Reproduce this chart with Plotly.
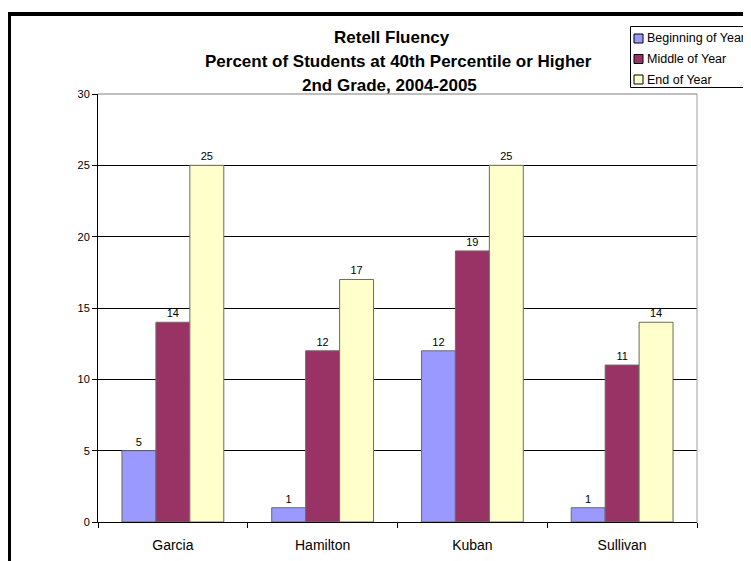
import plotly.graph_objects as go

teachers = ["Garcia", "Hamilton", "Kuban", "Sullivan"]
beginning = [5, 1, 12, 1]
middle = [14, 12, 19, 11]
end_year = [25, 17, 25, 14]
series_names = ["Beginning of Year", "Middle of Year", "End of Year"]
colors = ["#9999FF", "#993366", "#FFFFCC"]
y_ticks = [0, 5, 10, 15, 20, 25, 30]
title_lines = ["Retell Fluency", "Percent of Students at 40th Percentile or Higher", "2nd Grade, 2004-2005"]

FONT = "Liberation Sans, Arial, sans-serif"
OFF = 8  # page body margin

W, H = 751 - OFF, 561 - OFF
L, T = 98 - OFF, 94 - OFF
R = W - (697 - OFF)
B = H - (522 - OFF)
pw, ph = W - L - R, H - T - B

def px_x(p):
    return (p - OFF - L) / pw

def px_y(p):
    return (H - B - (p - OFF)) / ph

fig = go.Figure()
for name, vals, col in zip(series_names, [beginning, middle, end_year], colors):
    fig.add_trace(go.Bar(
        x=teachers, y=vals, name=name,
        marker=dict(color=col, line=dict(color="#6b6b5f", width=1)),
        text=[str(v) for v in vals], textposition="outside",
        textfont=dict(size=11, color="black", family=FONT),
        cliponaxis=False,
    ))

shapes = [
    dict(type="line", xref="paper", yref="paper", x0=1, x1=1, y0=0, y1=1,
         line=dict(color="#a0a0a0", width=1)),
    dict(type="line", xref="paper", yref="paper", x0=0, x1=1, y0=1, y1=1,
         line=dict(color="#808080", width=1)),
    dict(type="line", xref="paper", yref="paper", x0=px_x(9), x1=px_x(9),
         y0=px_y(12), y1=px_y(600), line=dict(color="black", width=4)),
    dict(type="line", xref="paper", yref="paper", x0=px_x(7), x1=px_x(800),
         y0=px_y(14), y1=px_y(14), line=dict(color="black", width=4)),
    # legend box
    dict(type="rect", xref="paper", yref="paper", x0=px_x(630.5), x1=px_x(800),
         y0=px_y(87.5), y1=px_y(26.5), line=dict(color="black", width=1), fillcolor="white"),
]

annotations = []
title_x = [392, 398, 389]
for i, line in enumerate(title_lines):
    annotations.append(dict(
        text="<b>" + line + "</b>", xref="paper", yref="paper",
        x=px_x(title_x[i]), y=px_y(37 + 24 * i), xanchor="center", yanchor="middle",
        showarrow=False, font=dict(size=17, family=FONT, color="black"),
    ))

for i, (name, col) in enumerate(zip(series_names, colors)):
    cy = 38.5 + 20.5 * i
    shapes.append(dict(type="rect", xref="paper", yref="paper",
                       x0=px_x(634), x1=px_x(643), y0=px_y(cy + 4.5), y1=px_y(cy - 4.5),
                       line=dict(color="black", width=1), fillcolor=col))
    annotations.append(dict(
        text=name, xref="paper", yref="paper", x=px_x(645), y=px_y(cy),
        xanchor="left", yanchor="middle", showarrow=False,
        font=dict(size=12.5, family=FONT, color="black"),
    ))

fig.update_layout(
    width=W, height=H,
    margin=dict(l=L, r=R, t=T, b=B, autoexpand=False),
    paper_bgcolor="white", plot_bgcolor="white",
    barmode="group", bargap=0.32, bargroupgap=0,
    font=dict(family=FONT, color="black"),
    showlegend=False,
    xaxis=dict(
        type="category", showgrid=False, tickson="boundaries",
        ticks="outside", ticklen=5, tickcolor="black",
        showline=True, linecolor="black", linewidth=1,
        tickfont=dict(size=14, family=FONT), ticklabelstandoff=10,
    ),
    yaxis=dict(
        range=[0, 30], tickvals=y_ticks, showgrid=True, gridcolor="black", gridwidth=1,
        ticks="outside", ticklen=5, tickcolor="black",
        showline=True, linecolor="black", linewidth=1,
        zeroline=False, tickfont=dict(size=11, family=FONT),
    ),
    shapes=shapes,
    annotations=annotations,
)

fig.write_html("out.html")
